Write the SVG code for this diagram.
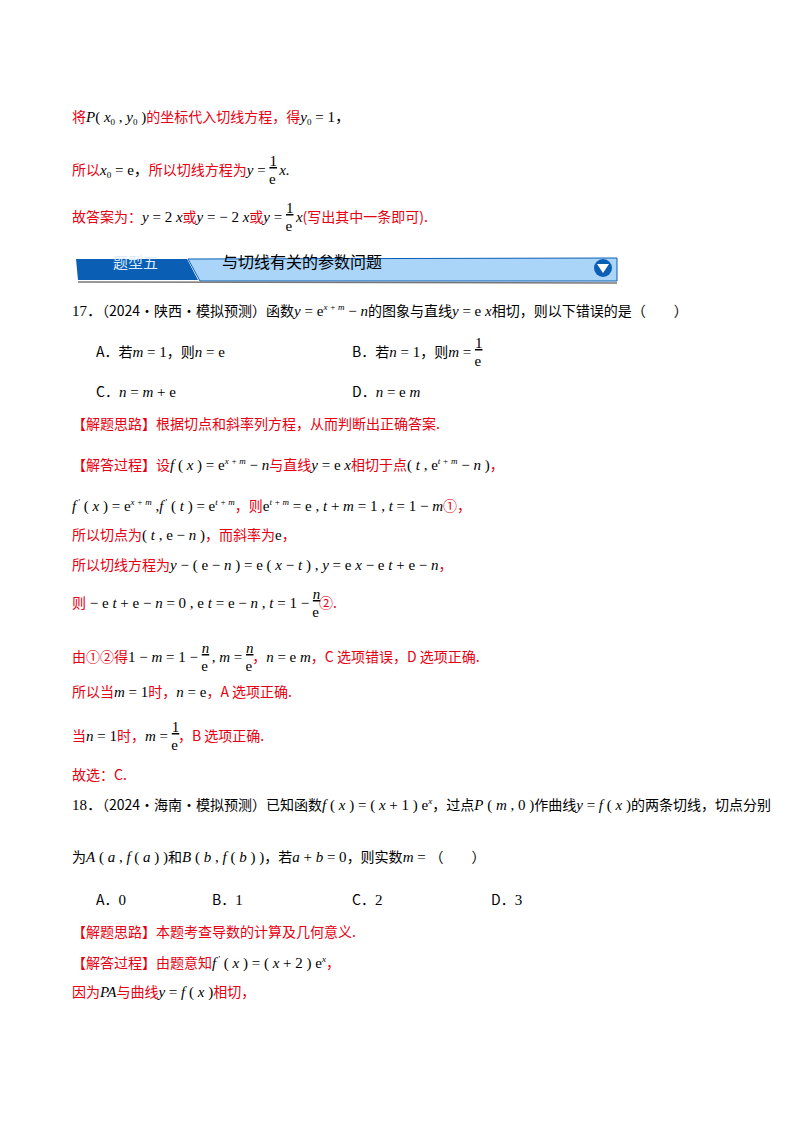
<svg xmlns="http://www.w3.org/2000/svg" width="800" height="1132" viewBox="0 0 800 1132">
<style>
text{font-family:"Liberation Serif","Noto Sans CJK SC",serif;font-size:15px;fill:#000;white-space:pre}
.r{fill:#e60012;font-family:"Noto Sans CJK SC",sans-serif;font-size:14px}
.c{font-family:"Noto Sans CJK SC",sans-serif;font-size:14px}
.i{font-style:italic}
.s{font-size:9px}
.u{text-decoration:underline}
</style>
<rect width="800" height="1132" fill="#fff"/>
<g id="p1">
<text x="72" y="122"><tspan class="r">将</tspan><tspan class="i">P</tspan>( <tspan class="i">x</tspan><tspan class="s" dy="3">0</tspan><tspan dy="-3"> , </tspan><tspan class="i">y</tspan><tspan class="s" dy="3">0</tspan><tspan dy="-3"> )</tspan><tspan class="r">的坐标代入切线方程，得</tspan><tspan class="i">y</tspan><tspan class="s" dy="3">0</tspan><tspan dy="-3"> = 1，</tspan></text>
<text x="72" y="175"><tspan class="r">所以</tspan><tspan class="i">x</tspan><tspan class="s" dy="3">0</tspan><tspan dy="-3"> = e，</tspan><tspan class="r">所以切线方程为</tspan><tspan class="i">y</tspan> = <tspan class="u" dy="-9">1</tspan><tspan dx="-8" dy="18">e</tspan><tspan class="i" dy="-9"> x.</tspan></text>
<text x="72" y="222"><tspan class="r">故答案为：</tspan><tspan class="i">y</tspan> = 2 <tspan class="i">x</tspan><tspan class="r">或</tspan><tspan class="i">y</tspan> = − 2 <tspan class="i">x</tspan><tspan class="r">或</tspan><tspan class="i">y</tspan> = <tspan class="u" dy="-9">1</tspan><tspan dx="-8" dy="18">e</tspan><tspan class="i" dy="-9"> x</tspan><tspan class="r">(写出其中一条即可).</tspan></text>
</g>
<g id="banner">
<polygon points="76,259 187,259 198,280 78,280" fill="#0a5fb4"/>
<polygon points="188,259 617,258 617,281 200,281" fill="#aad4f8" stroke="#0a5fb4" stroke-width="1"/>
<line x1="78" y1="282" x2="617" y2="283" stroke="#777" stroke-width="1.5"/>
<text x="113" y="268" style="fill:#dbeafc;font-family:'Noto Sans CJK SC',sans-serif;font-size:15px">题型五</text>
<text x="222" y="268" style="font-family:'Noto Sans CJK SC',sans-serif;font-size:16px">与切线有关的参数问题</text>
<circle cx="603" cy="268" r="9" fill="#0a5fb4"/>
<polygon points="597,264 609,264 603,273" fill="#fff"/>
</g>
<g id="q17">
<text x="72" y="316"><tspan>17．</tspan><tspan class="c">（2024·陕西·模拟预测）函数</tspan><tspan class="i">y</tspan> = e<tspan class="s i" dy="-6">x + m</tspan><tspan dy="6"> − </tspan><tspan class="i">n</tspan><tspan class="c">的图象与直线</tspan><tspan class="i">y</tspan> = e <tspan class="i">x</tspan><tspan class="c">相切，则以下错误的是（　　）</tspan></text>
<text x="96" y="357"><tspan class="c">A．若</tspan><tspan class="i">m</tspan> = 1<tspan class="c">，则</tspan><tspan class="i">n</tspan> = e</text>
<text x="352" y="357"><tspan class="c">B．若</tspan><tspan class="i">n</tspan> = 1<tspan class="c">，则</tspan><tspan class="i">m</tspan> = <tspan class="u" dy="-9">1</tspan><tspan dx="-8" dy="18">e</tspan></text>
<text x="96" y="397"><tspan class="c">C．</tspan><tspan class="i">n</tspan> = <tspan class="i">m</tspan> + e</text>
<text x="352" y="397"><tspan class="c">D．</tspan><tspan class="i">n</tspan> = e <tspan class="i">m</tspan></text>
<text x="72" y="429" class="r">【解题思路】根据切点和斜率列方程，从而判断出正确答案.</text>
<text x="72" y="470"><tspan class="r">【解答过程】设</tspan><tspan class="i">f</tspan> ( <tspan class="i">x</tspan> ) = e<tspan class="s i" dy="-6">x + m</tspan><tspan dy="6"> − </tspan><tspan class="i">n</tspan><tspan class="r">与直线</tspan><tspan class="i">y</tspan> = e <tspan class="i">x</tspan><tspan class="r">相切于点</tspan>( <tspan class="i">t</tspan> , e<tspan class="s i" dy="-6">t + m</tspan><tspan dy="6"> − </tspan><tspan class="i">n</tspan> )<tspan class="r">，</tspan></text>
<text x="72" y="511"><tspan class="i">f</tspan><tspan class="s" dy="-6"> '</tspan><tspan dy="6"> ( </tspan><tspan class="i">x</tspan> ) = e<tspan class="s i" dy="-6">x + m</tspan><tspan dy="6"> ,</tspan><tspan class="i">f</tspan><tspan class="s" dy="-6"> '</tspan><tspan dy="6"> ( </tspan><tspan class="i">t</tspan> ) = e<tspan class="s i" dy="-6">t + m</tspan><tspan dy="6" class="r">，则</tspan>e<tspan class="s i" dy="-6">t + m</tspan><tspan dy="6"> = e , </tspan><tspan class="i">t</tspan> + <tspan class="i">m</tspan> = 1 , <tspan class="i">t</tspan> = 1 − <tspan class="i">m</tspan><tspan class="r">①，</tspan></text>
<text x="72" y="540"><tspan class="r">所以切点为</tspan>( <tspan class="i">t</tspan> , e − <tspan class="i">n</tspan> )<tspan class="r">，而斜率为</tspan>e<tspan class="r">，</tspan></text>
<text x="72" y="570"><tspan class="r">所以切线方程为</tspan><tspan class="i">y</tspan> − ( e − <tspan class="i">n</tspan> ) = e ( <tspan class="i">x</tspan> − <tspan class="i">t</tspan> ) , <tspan class="i">y</tspan> = e <tspan class="i">x</tspan> − e <tspan class="i">t</tspan> + e − <tspan class="i">n</tspan><tspan class="r">，</tspan></text>
<text x="72" y="608"><tspan class="r">则</tspan> − e <tspan class="i">t</tspan> + e − <tspan class="i">n</tspan> = 0 , e <tspan class="i">t</tspan> = e − <tspan class="i">n</tspan> , <tspan class="i">t</tspan> = 1 − <tspan class="u i" dy="-9">n</tspan><tspan dx="-8" dy="18">e</tspan><tspan class="r" dy="-9">②.</tspan></text>
<text x="72" y="662"><tspan class="r">由①②得</tspan>1 − <tspan class="i">m</tspan> = 1 − <tspan class="u i" dy="-9">n</tspan><tspan dx="-8" dy="18">e</tspan><tspan dy="-9"> , </tspan><tspan class="i">m</tspan> = <tspan class="u i" dy="-9">n</tspan><tspan dx="-8" dy="18">e</tspan><tspan class="r" dy="-9">，</tspan><tspan class="i">n</tspan> = e <tspan class="i">m</tspan><tspan class="r">，C 选项错误，D 选项正确.</tspan></text>
<text x="72" y="697"><tspan class="r">所以当</tspan><tspan class="i">m</tspan> = 1<tspan class="r">时，</tspan><tspan class="i">n</tspan> = e<tspan class="r">，A 选项正确.</tspan></text>
<text x="72" y="741"><tspan class="r">当</tspan><tspan class="i">n</tspan> = 1<tspan class="r">时，</tspan><tspan class="i">m</tspan> = <tspan class="u" dy="-9">1</tspan><tspan dx="-8" dy="18">e</tspan><tspan class="r" dy="-9">，B 选项正确.</tspan></text>
<text x="72" y="780" class="r">故选：C.</text>
</g>
<g id="q18">
<text x="72" y="810"><tspan>18．</tspan><tspan class="c">（2024·海南·模拟预测）已知函数</tspan><tspan class="i">f</tspan> ( <tspan class="i">x</tspan> ) = ( <tspan class="i">x</tspan> + 1 ) e<tspan class="s i" dy="-6">x</tspan><tspan dy="6" class="c">，过点</tspan><tspan class="i">P</tspan> ( <tspan class="i">m</tspan> , 0 )<tspan class="c">作曲线</tspan><tspan class="i">y</tspan> = <tspan class="i">f</tspan> ( <tspan class="i">x</tspan> )<tspan class="c">的两条切线，切点分别</tspan></text>
<text x="72" y="862"><tspan class="c">为</tspan><tspan class="i">A</tspan> ( <tspan class="i">a</tspan> , <tspan class="i">f</tspan> ( <tspan class="i">a</tspan> ) )<tspan class="c">和</tspan><tspan class="i">B</tspan> ( <tspan class="i">b</tspan> , <tspan class="i">f</tspan> ( <tspan class="i">b</tspan> ) )<tspan class="c">，若</tspan><tspan class="i">a</tspan> + <tspan class="i">b</tspan> = 0<tspan class="c">，则实数</tspan><tspan class="i">m</tspan> = <tspan class="c">（　　）</tspan></text>
<text x="96" y="905"><tspan class="c">A．</tspan>0</text>
<text x="212" y="905"><tspan class="c">B．</tspan>1</text>
<text x="352" y="905"><tspan class="c">C．</tspan>2</text>
<text x="491" y="905"><tspan class="c">D．</tspan>3</text>
<text x="72" y="937" class="r">【解题思路】本题考查导数的计算及几何意义.</text>
<text x="72" y="968"><tspan class="r">【解答过程】由题意知</tspan><tspan class="i">f</tspan><tspan class="s" dy="-6"> '</tspan><tspan dy="6"> ( </tspan><tspan class="i">x</tspan> ) = ( <tspan class="i">x</tspan> + 2 ) e<tspan class="s i" dy="-6">x</tspan><tspan dy="6" class="r">，</tspan></text>
<text x="72" y="997"><tspan class="r">因为</tspan><tspan class="i">PA</tspan><tspan class="r">与曲线</tspan><tspan class="i">y</tspan> = <tspan class="i">f</tspan> ( <tspan class="i">x</tspan> )<tspan class="r">相切，</tspan></text>
</g>
</svg>
